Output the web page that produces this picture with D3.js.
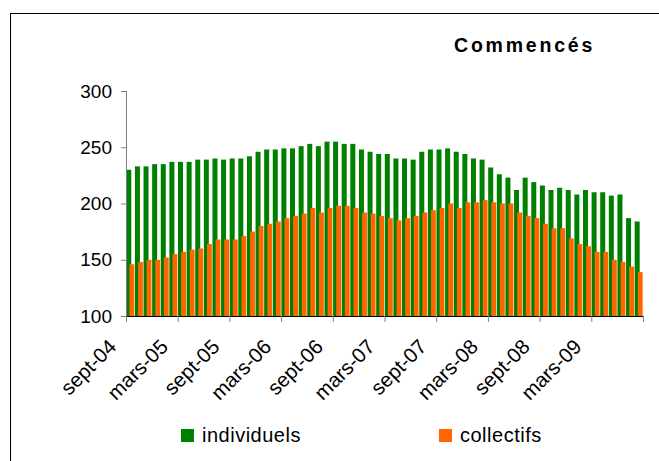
<!DOCTYPE html>
<html>
<head>
<meta charset="utf-8">
<script src="https://cdn.jsdelivr.net/npm/d3@7"></script>
<style>
  body { margin: 0; background: #fff; }
  text { font-family: "Liberation Sans", Arial, sans-serif; }
</style>
</head>
<body>
<div id="chart"></div>
<script>
// months, sept-04 .. aout-09
var months = [
  "sept-04","oct-04","nov-04","déc-04","janv-05","févr-05","mars-05","avr-05","mai-05","juin-05","juil-05","août-05",
  "sept-05","oct-05","nov-05","déc-05","janv-06","févr-06","mars-06","avr-06","mai-06","juin-06","juil-06","août-06",
  "sept-06","oct-06","nov-06","déc-06","janv-07","févr-07","mars-07","avr-07","mai-07","juin-07","juil-07","août-07",
  "sept-07","oct-07","nov-07","déc-07","janv-08","févr-08","mars-08","avr-08","mai-08","juin-08","juil-08","août-08",
  "sept-08","oct-08","nov-08","déc-08","janv-09","févr-09","mars-09","avr-09","mai-09","juin-09","juil-09","août-09"
];

var individuels = [
  230, 233, 233, 235, 235, 237, 237, 237, 239, 239, 240, 239,
  240, 240, 242, 246, 248, 248, 249, 249, 251, 253, 251, 255,
  255, 253, 253, 248, 246, 244, 244, 240, 240, 239, 246, 248,
  248, 249, 246, 244, 240, 239, 232, 226, 223, 212, 223, 219,
  216, 212, 214, 212, 208, 212, 210, 210, 207, 208, 187, 184
];

var collectifs = [
  146, 148, 150, 150, 152, 155, 157, 159, 160, 164, 168, 168,
  168, 171, 175, 180, 182, 184, 187, 189, 191, 196, 192, 196,
  198, 198, 196, 192, 191, 189, 187, 185, 187, 189, 192, 194,
  196, 200, 196, 201, 201, 203, 201, 200, 200, 192, 189, 187,
  182, 178, 178, 169, 164, 162, 157, 157, 150, 148, 144, 139
];

var tickLabels = ["sept-04","mars-05","sept-05","mars-06","sept-06","mars-07","sept-07","mars-08","sept-08","mars-09"];
var yTicks = [100, 150, 200, 250, 300];

var width = 659, height = 461;
var plotLeft = 126, plotRight = 643, plotTop = 91, plotBottom = 316;

var svg = d3.select('#chart').append('svg')
  .attr('width', width)
  .attr('height', height);

// outer frame (runs off the picture on the right and bottom)
svg.append('rect')
  .attr('x', 10.5).attr('y', 13.5)
  .attr('width', 700).attr('height', 500)
  .attr('fill', 'none')
  .attr('stroke', '#000')
  .attr('stroke-width', 1);

var x = d3.scaleBand()
  .domain(months)
  .range([plotLeft, plotRight])
  .padding(0);

var xIdx = d3.scaleLinear()
  .domain([0, months.length])
  .range([plotLeft, plotRight]);

var y = d3.scaleLinear()
  .domain([100, 300])
  .range([plotBottom, plotTop]);

var bw = x.bandwidth();

svg.append('g').selectAll('rect')
  .data(individuels)
  .enter().append('rect')
    .attr('x', function(d, i) { return x(months[i]) + 0.3; })
    .attr('width', bw * 0.58)
    .attr('y', function(d) { return y(d); })
    .attr('height', function(d) { return y(100) - y(d); })
    .attr('fill', '#008000');

svg.append('g').selectAll('rect')
  .data(collectifs)
  .enter().append('rect')
    .attr('x', function(d, i) { return x(months[i]) + bw * 0.4; })
    .attr('width', bw * 0.56)
    .attr('y', function(d) { return y(d); })
    .attr('height', function(d) { return y(100) - y(d); })
    .attr('fill', '#FF6600');

// y axis
var yAxis = svg.append('g')
  .attr('transform', 'translate(' + plotLeft + ',0)')
  .call(d3.axisLeft(y).tickValues(yTicks).tickSize(5).tickPadding(9).tickFormat(d3.format('d')));
yAxis.select('.domain').attr('stroke', '#808080').attr('d', 'M0.5,' + plotTop + 'V' + plotBottom);
yAxis.selectAll('.tick line').attr('stroke', '#808080');
yAxis.selectAll('text')
  .attr('font-size', 19)
  .attr('fill', '#000')
  .style('font-family', '"Liberation Sans", Arial, sans-serif');

// x axis
var xTickVals = d3.range(0, months.length + 1, 6);
var xAxis = svg.append('g')
  .attr('transform', 'translate(0,' + plotBottom + ')')
  .call(d3.axisBottom(xIdx).tickValues(xTickVals).tickSize(6).tickSizeOuter(0)
    .tickFormat(function(d) { return tickLabels[d / 6] || ''; }));
xAxis.select('.domain').attr('stroke', '#000');
xAxis.selectAll('.tick line').attr('stroke', '#808080');
xAxis.selectAll('text')
  .attr('font-size', 20.5)
  .attr('fill', '#000')
  .attr('text-anchor', 'end')
  .attr('x', 0).attr('y', 0).attr('dy', 0)
  .attr('transform', 'translate(-9,32) rotate(-45)')
  .style('font-family', '"Liberation Sans", Arial, sans-serif');

// title
svg.append('text')
  .attr('x', 454).attr('y', 52)
  .attr('font-size', 19.5)
  .attr('font-weight', 'bold')
  .attr('letter-spacing', 2.8)
  .text('Commencés');

// legend
var legend = [
  { name: 'individuels', color: '#008000', x: 181 },
  { name: 'collectifs', color: '#FF6600', x: 439 }
];
var lg = svg.append('g').selectAll('g')
  .data(legend)
  .enter().append('g')
    .attr('transform', function(d) { return 'translate(' + d.x + ',429)'; });
lg.append('rect')
  .attr('width', 13).attr('height', 13)
  .attr('fill', function(d) { return d.color; });
lg.append('text')
  .attr('x', 21).attr('y', 13)
  .attr('font-size', 20)
  .attr('letter-spacing', 0.5)
  .text(function(d) { return d.name; });
</script>
</body>
</html>
